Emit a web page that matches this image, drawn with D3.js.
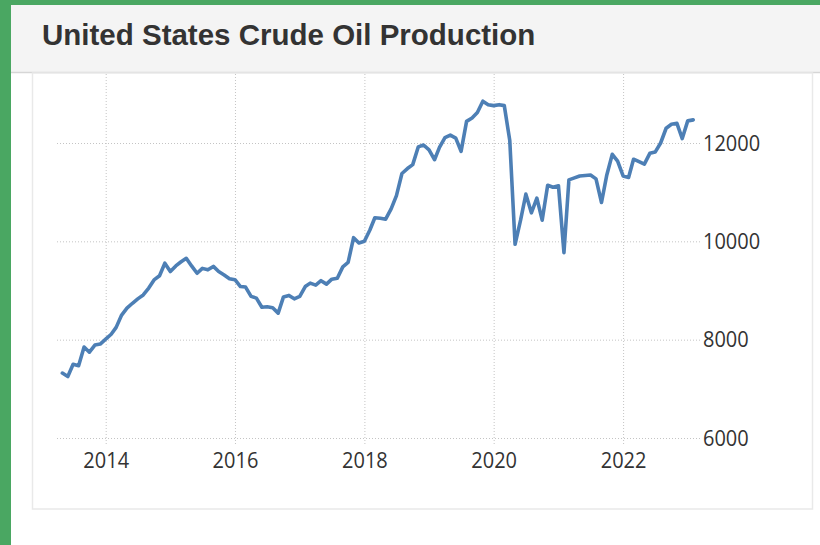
<!DOCTYPE html>
<html><head><meta charset="utf-8">
<script src="https://cdn.jsdelivr.net/npm/d3@7"></script>
<style>html,body{margin:0;padding:0;background:#fff;} svg{display:block}</style>
</head><body>
<svg id="c" width="820" height="545"></svg>
<script>
const chartTitle = "United States Crude Oil Production";
const firstMonth = "2013-05";
// thousand barrels per day, monthly, May 2013 .. Feb 2023
const production = [
  7320, 7250, 7500, 7470, 7850, 7745, 7890, 7910,
  8010, 8110, 8250, 8500, 8640, 8740, 8830, 8910, 9050, 9215, 9300, 9555,
  9385, 9500, 9580, 9655, 9500, 9350, 9450, 9420, 9490, 9385, 9315, 9240,
  9220, 9080, 9070, 8880, 8845, 8660, 8670, 8650, 8540, 8870, 8900, 8830,
  8880, 9080, 9150, 9110, 9200, 9130, 9230, 9250, 9480, 9570, 10075, 9965,
  10000, 10230, 10480, 10470, 10450, 10660, 10930, 11380, 11480, 11560, 11920, 11960,
  11860, 11660, 11910, 12110, 12160, 12100, 11830, 12440, 12510, 12620, 12850, 12780,
  12760, 12780, 12760, 12050, 9940, 10430, 10960, 10580, 10880, 10430, 11140, 11100,
  11130, 9770, 11250, 11290, 11330, 11340, 11350, 11270, 10790, 11350, 11770, 11630,
  11330, 11300, 11670, 11620, 11570, 11790, 11815, 12000, 12300, 12380, 12400, 12090,
  12450, 12470
];
const xTickYears = [2014, 2016, 2018, 2020, 2022];
const yTicks = [6000, 8000, 10000, 12000];

const W = 820, H = 545;
const svg = d3.select("#c");

// page frame
svg.append("rect").attr("width", W).attr("height", H).attr("fill", "#fff");
svg.append("rect").attr("x", 11).attr("y", 5).attr("width", W - 11).attr("height", 67).attr("fill", "#f4f4f4");
svg.append("line").attr("x1", 11).attr("x2", W).attr("y1", 72.5).attr("y2", 72.5).attr("stroke", "#d6d6d6").attr("stroke-width", 1.5);
svg.append("rect").attr("x", 32.5).attr("y", 73).attr("width", 780).attr("height", 436)
  .attr("fill", "#fff").attr("stroke", "#e9e9e9").attr("stroke-width", 1.5);
svg.append("rect").attr("x", 0).attr("y", 0).attr("width", W).attr("height", 5).attr("fill", "#4aa762");
svg.append("rect").attr("x", 0).attr("y", 0).attr("width", 11).attr("height", H).attr("fill", "#4aa762");

svg.append("text").attr("x", 42).attr("y", 45)
  .attr("font-family", "'Liberation Sans', Arial, sans-serif").attr("font-weight", "bold")
  .attr("font-size", 29.5).attr("fill", "#333").text(chartTitle);

// data
const start = d3.timeParse("%Y-%m")(firstMonth);
const data = production.map((v, i) => ({ date: d3.timeMonth.offset(start, i), v }));

const x = d3.scaleTime().domain([new Date(2014, 0, 1), new Date(2022, 0, 1)]).range([105.7, 623.1]);
const y = d3.scaleLinear().domain([6000, 12000]).range([438, 143]);

const gridTop = 74, gridBottom = 444, hLeft = 55, hRight = 700;

// y axis (right) with horizontal grid
const gy = svg.append("g").attr("transform", `translate(${hRight},0)`)
  .call(d3.axisRight(y).tickValues(yTicks).tickSize(-(hRight - hLeft)).tickPadding(3).tickFormat(d3.format("d")));
gy.select(".domain").remove();
gy.selectAll(".tick line").attr("stroke", "#c4c4c4").attr("stroke-dasharray", "1,2");
gy.selectAll(".tick text").attr("font-family", "'Open Sans', sans-serif").attr("font-size", 20).attr("fill", "#333")
  .attr("transform", "scale(1,1.1)");

// x axis with vertical grid
const gx = svg.append("g").attr("transform", `translate(0,${gridBottom})`)
  .call(d3.axisBottom(x).tickValues(xTickYears.map(yr => new Date(yr, 0, 1)))
    .tickSize(-(gridBottom - gridTop)).tickPadding(9).tickFormat(d3.timeFormat("%Y")));
gx.select(".domain").remove();
gx.selectAll(".tick line").attr("stroke", "#c4c4c4").attr("stroke-dasharray", "1,2");
gx.selectAll(".tick text").attr("font-family", "'Open Sans', sans-serif").attr("font-size", 20).attr("fill", "#333")
  .attr("transform", "translate(0,17) scale(1,1.12) translate(0,-17)");

// line
svg.append("path").datum(data)
  .attr("fill", "none").attr("stroke", "#4d7fb5").attr("stroke-width", 3.6)
  .attr("stroke-linejoin", "round").attr("stroke-linecap", "round")
  .attr("d", d3.line().x(d => x(d.date)).y(d => y(d.v)));
</script>
</body></html>
